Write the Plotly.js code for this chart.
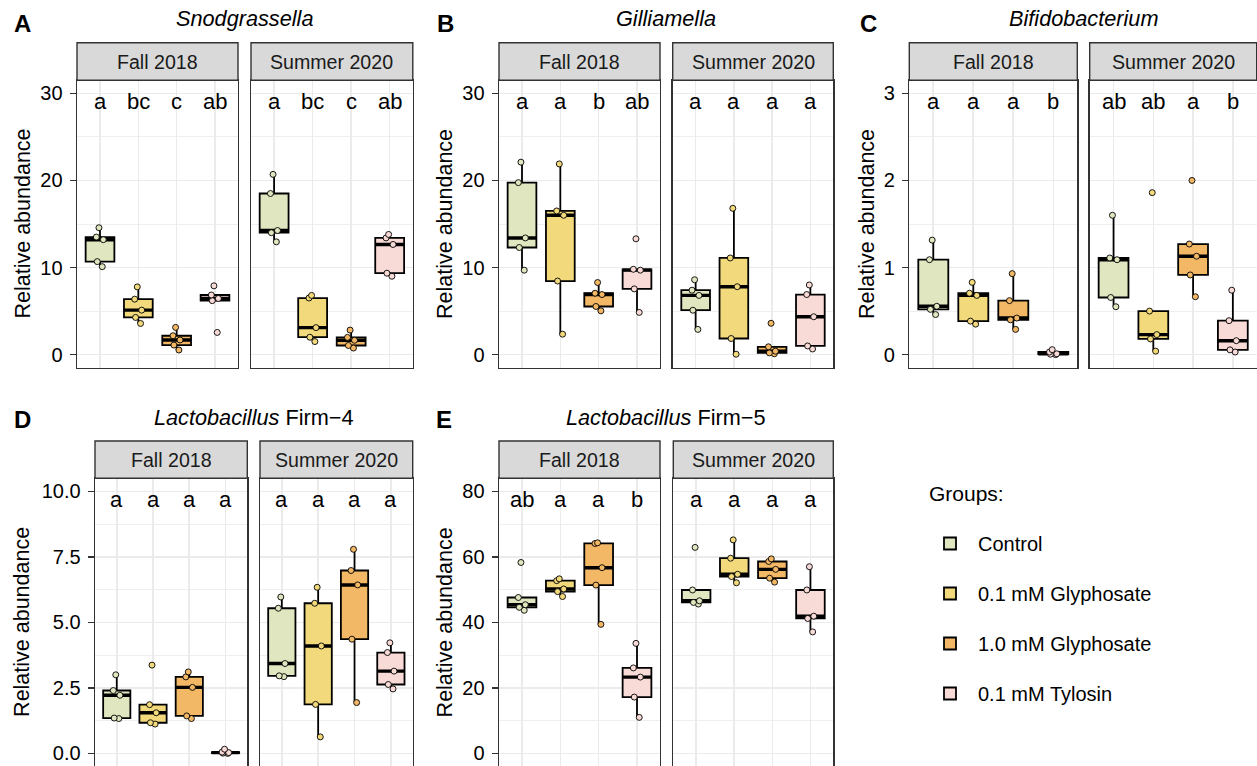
<!DOCTYPE html>
<html><head><meta charset="utf-8">
<script src="https://cdn.plot.ly/plotly-3.0.1.min.js"></script>
<style>html,body{margin:0;padding:0;overflow:hidden;background:#fff}</style>
</head><body><div id="chart" style="width:1257px;height:770px"></div>
<script>
// ---------------- DATA ----------------
const groups = ['Control', '0.1 mM Glyphosate', '1.0 mM Glyphosate', '0.1 mM Tylosin'];
const facets = ['Fall 2018', 'Summer 2020'];
const panelTitles = ['<i>Snodgrassella</i>', '<i>Gilliamella</i>', '<i>Bifidobacterium</i>',
                     '<i>Lactobacillus</i> Firm\u22124', '<i>Lactobacillus</i> Firm\u22125'];
const panelLetters = ['A', 'B', 'C', 'D', 'E'];
const yTitle = 'Relative abundance';
const legendTitle = 'Groups:';

// relative abundance per group (Control, 0.1 Gly, 1.0 Gly, Tylosin)
const snodFall   = [[10.1, 10.68, 13.2, 13.5, 14.57], [3.58, 4.27, 5.11, 6.37, 7.78], [0.53, 1.1, 1.68, 2.17, 3.13], [2.55, 6.2, 6.45, 6.85, 7.9]];
const snodSummer = [[12.95, 14.0, 14.25, 18.5, 20.7], [1.5, 2.0, 3.1, 6.5, 6.8], [0.76, 1.05, 1.65, 1.98, 2.82], [9.0, 9.35, 12.65, 13.4, 13.8]];
const gillFall   = [[9.7, 12.3, 13.4, 19.75, 22.1], [2.35, 8.45, 16.0, 16.5, 21.9], [5.03, 5.53, 6.9, 7.05, 8.28], [4.85, 7.55, 9.7, 9.8, 13.3]];
const gillSummer = [[2.9, 5.1, 6.8, 7.4, 8.6], [0.05, 1.85, 7.8, 11.1, 16.8], [0.1, 0.2, 0.4, 0.9, 3.6], [0.65, 1.0, 4.35, 6.9, 8.0]];
const bifiFall   = [[0.46, 0.52, 0.555, 1.09, 1.315], [0.35, 0.385, 0.68, 0.705, 0.83], [0.29, 0.40, 0.42, 0.62, 0.93], [0.0, 0.005, 0.01, 0.03, 0.057]];
const bifiSummer = [[0.55, 0.656, 1.09, 1.11, 1.6], [0.04, 0.18, 0.23, 0.5, 1.86], [0.665, 0.915, 1.13, 1.27, 2.0], [0.03, 0.055, 0.16, 0.39, 0.74]];
const firm4Fall   = [[1.33, 1.35, 2.22, 2.4, 3.0], [1.12, 1.17, 1.55, 1.86, 3.37], [1.33, 1.43, 2.52, 2.92, 3.11], [0.0, 0.01, 0.03, 0.05, 0.16]];
const firm4Summer = [[2.93, 2.96, 3.43, 5.54, 5.97], [0.63, 1.87, 4.1, 5.73, 6.34], [1.94, 4.36, 6.43, 6.98, 7.79], [2.46, 2.63, 3.14, 3.85, 4.22]];
const firm5Fall   = [[43.7, 44.6, 45.4, 47.6, 58.3], [47.9, 49.4, 50.2, 52.75, 53.3], [39.4, 51.4, 56.7, 64.1, 64.3], [11.0, 17.2, 23.3, 26.1, 33.6]];
const firm5Summer = [[45.6, 46.1, 46.6, 49.9, 62.9], [52.1, 54.0, 54.7, 59.6, 65.2], [52.3, 53.5, 56.2, 58.6, 59.4], [37.1, 41.2, 41.9, 49.9, 57.0]];

// significance letters per facet
const snodLetters  = [['a', 'bc', 'c', 'ab'], ['a', 'bc', 'c', 'ab']];
const gillLetters  = [['a', 'a', 'b', 'ab'], ['a', 'a', 'a', 'a']];
const bifiLetters  = [['a', 'a', 'a', 'b'], ['ab', 'ab', 'a', 'b']];
const firm4Letters = [['a', 'a', 'a', 'a'], ['a', 'a', 'a', 'a']];
const firm5Letters = [['ab', 'a', 'a', 'b'], ['a', 'a', 'a', 'a']];

const panelData = [[snodFall, snodSummer], [gillFall, gillSummer], [bifiFall, bifiSummer], [firm4Fall, firm4Summer], [firm5Fall, firm5Summer]];
const panelLettersData = [snodLetters, gillLetters, bifiLetters, firm4Letters, firm5Letters];

// ---------------- STYLE / GEOMETRY ----------------
const colors = ['#E0E6BF', '#F2DA7C', '#F2B866', '#F8DAD7'];
const W = 1257, H = 770;
const FONT = 'Liberation Sans, Arial, Helvetica, sans-serif';
const geo = [
  {fx: [[77, 238], [251, 412.8]], row: 0, ymax: 30, dtick: 10, minor: 5, fmt: '', titleX: 244.8, letterX: 22.8, ytitleX: 22.5},
  {fx: [[499, 660], [672.7, 833.3]], row: 0, ymax: 30, dtick: 10, minor: 5, fmt: '', titleX: 666, letterX: 445, ytitleX: 445},
  {fx: [[909.3, 1077.3], [1089.7, 1256.7]], row: 0, ymax: 3, dtick: 1, minor: 0.5, fmt: '', titleX: 1083, letterX: 868, ytitleX: 867},
  {fx: [[95, 247.3], [260, 412.7]], row: 1, ymax: 10, dtick: 2.5, minor: 1.25, fmt: '.1f', titleX: 253.8, letterX: 22.3, ytitleX: 22.5},
  {fx: [[499, 660], [673.3, 833.3]], row: 1, ymax: 80, dtick: 20, minor: 10, fmt: '', titleX: 666, letterX: 443.5, ytitleX: 445}
];
const rows = [
  {stripTop: 42.7, plotTop: 80.3, plotBot: 367.7, titleY: 19, letterY: 23.3},
  {stripTop: 441, plotTop: 478.3, plotBot: 766.5, titleY: 417, letterY: 420}
];
const px = x => x / W;
const py = y => 1 - y / H;

function median(a) {
  const s = a.slice().sort((p, q) => p - q);
  const n = s.length;
  return n % 2 ? s[(n - 1) / 2] : (s[n / 2 - 1] + s[n / 2]) / 2;
}

const traces = [];
const layout = {
  width: W, height: H,
  margin: {l: 0, r: 0, t: 0, b: 0},
  paper_bgcolor: '#fff', plot_bgcolor: '#fff',
  font: {family: FONT, color: '#000'},
  showlegend: true,
  hovermode: false,
  legend: {
    x: px(922), y: py(524), xanchor: 'left', yanchor: 'top',
    font: {size: 20, family: FONT, color: '#000'},
    traceorder: 'grouped', tracegroupgap: 21,
    bgcolor: 'rgba(0,0,0,0)', itemwidth: 46
  },
  annotations: [{xref: 'paper', yref: 'paper', x: px(927), y: py(493), text: legendTitle, showarrow: false,
    xanchor: 'left', yanchor: 'middle', font: {size: 21, family: FONT, color: '#000'}}],
  shapes: []
};

let k = 0;
panelData.forEach((pd, p) => {
  const g0 = geo[p];
  const r = rows[g0.row];
  const yr = [-0.05 * g0.ymax, 1.05 * g0.ymax];
  pd.forEach((fd, f) => {
    k += 1;
    const xa = 'x' + (k === 1 ? '' : k);
    const ya = 'y' + (k === 1 ? '' : k);
    const xName = 'xaxis' + (k === 1 ? '' : k);
    const yName = 'yaxis' + (k === 1 ? '' : k);
    const [x0, x1] = g0.fx[f];
    layout[xName] = {
      domain: [px(x0), px(x1)], anchor: ya, range: [0.4, 4.6],
      tickmode: 'array', tickvals: [1, 2, 3, 4], showticklabels: false, ticks: '',
      showgrid: true, gridcolor: '#EBEBEB', gridwidth: 1.6, zeroline: false,
      showline: true, mirror: true, linecolor: '#333333', linewidth: 1.4, fixedrange: true
    };
    layout[yName] = {
      domain: [py(r.plotBot), py(r.plotTop)], anchor: xa, range: yr,
      tickmode: 'linear', tick0: 0, dtick: g0.dtick, tickformat: g0.fmt,
      showticklabels: f === 0, ticks: f === 0 ? 'outside' : '', ticklen: 6, tickwidth: 1.3, tickcolor: '#333333',
      tickfont: {size: 20, family: FONT, color: '#000'}, ticklabelstandoff: 3,
      showgrid: true, gridcolor: '#EBEBEB', gridwidth: 1.6,
      minor: {tick0: 0, dtick: g0.minor, showgrid: true, gridcolor: '#EBEBEB', gridwidth: 0.8, ticks: ''},
      zeroline: false, showline: true, mirror: true, linecolor: '#333333', linewidth: 1.4, fixedrange: true
    };
    // strip
    layout.shapes.push({type: 'rect', xref: 'paper', yref: 'paper', x0: px(x0), x1: px(x1),
      y0: py(r.plotTop), y1: py(r.stripTop), fillcolor: '#D9D9D9', line: {color: '#333333', width: 1.4}, layer: 'above'});
    layout.annotations.push({xref: 'paper', yref: 'paper', x: px((x0 + x1) / 2), y: py((r.stripTop + r.plotTop) / 2),
      text: facets[f], showarrow: false, xanchor: 'center', yanchor: 'middle', font: {size: 19.6, family: FONT, color: '#1A1A1A'}});

    fd.forEach((vals, g) => {
      const pos = vals.map(() => g + 1);
      // box with whiskers to the 1.5*IQR fences (outlier markers hidden; all points drawn below)
      traces.push({
        type: 'box', x: pos, y: vals, xaxis: xa, yaxis: ya, width: 0.75,
        quartilemethod: 'inclusive', boxpoints: 'outliers', whiskerwidth: 0,
        marker: {opacity: 0, size: 1},
        fillcolor: colors[g], line: {color: '#000', width: 1.8},
        name: groups[g], legendgroup: groups[g], showlegend: k === 1, hoverinfo: 'skip'
      });
      // thick median line
      const m = median(vals);
      traces.push({
        type: 'box', x: [g + 1], y: [m], xaxis: xa, yaxis: ya, width: 0.75,
        boxpoints: false, whiskerwidth: 0, fillcolor: 'rgba(0,0,0,0)', line: {color: '#000', width: 3.4},
        showlegend: false, hoverinfo: 'skip', legendgroup: groups[g]
      });
      // individual samples
      traces.push({
        type: 'box', x: pos, y: vals, xaxis: xa, yaxis: ya, width: 0.75,
        quartilemethod: 'inclusive', boxpoints: 'all', jitter: 0.3, pointpos: 0, whiskerwidth: 0,
        fillcolor: 'rgba(0,0,0,0)', line: {color: 'rgba(0,0,0,0)', width: 0},
        marker: {color: colors[g], size: 6, line: {color: '#000', width: 0.9}},
        showlegend: false, hoverinfo: 'skip', legendgroup: groups[g]
      });
      // significance letter
      layout.annotations.push({xref: xa, yref: ya, x: g + 1, y: g0.ymax, text: panelLettersData[p][f][g],
        showarrow: false, xanchor: 'center', yanchor: 'top', yshift: 6, font: {size: 22, family: FONT, color: '#000'}});
    });
  });
  // panel title
  layout.annotations.push({xref: 'paper', yref: 'paper', x: px(g0.titleX), y: py(r.titleY), text: panelTitles[p],
    showarrow: false, xanchor: 'center', yanchor: 'middle', font: {size: 21.7, family: FONT, color: '#000'}});
  // panel letter
  layout.annotations.push({xref: 'paper', yref: 'paper', x: px(g0.letterX), y: py(r.letterY), text: '<b>' + panelLetters[p] + '</b>',
    showarrow: false, xanchor: 'center', yanchor: 'middle', font: {size: 24, family: FONT, color: '#000'}});
  // y title
  layout.annotations.push({xref: 'paper', yref: 'paper', x: px(g0.ytitleX), y: py((r.plotTop + r.plotBot) / 2), text: yTitle,
    textangle: -90, showarrow: false, xanchor: 'center', yanchor: 'middle', font: {size: 21.5, family: FONT, color: '#000'}});
});

Plotly.newPlot('chart', traces, layout, {staticPlot: true, displayModeBar: false});
</script>
</body></html>
